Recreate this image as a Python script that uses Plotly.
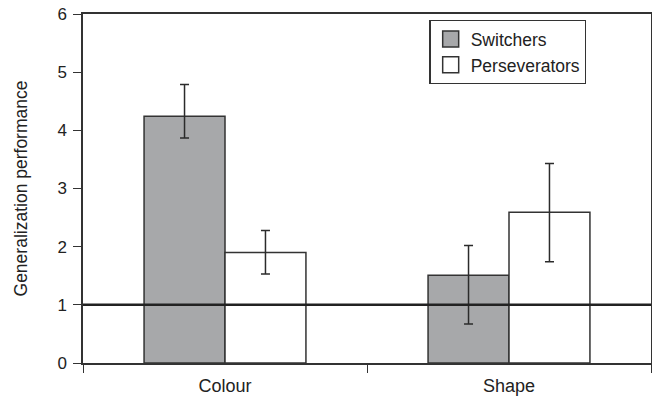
import plotly.graph_objects as go

categories = ["Colour", "Shape"]
switchers = [4.24, 1.51]
switchers_err_plus = [0.55, 0.51]
switchers_err_minus = [0.37, 0.84]
persev = [1.90, 2.59]
persev_err_plus = [0.38, 0.84]
persev_err_minus = [0.37, 0.85]
yticks = [0, 1, 2, 3, 4, 5, 6]
ref_line = 1

dark = "#2b2b2b"
edge = "#333333"
grey = "#a7a8aa"

fig = go.Figure()
fig.add_trace(go.Bar(
    x=categories, y=switchers, name="Switchers", showlegend=False,
    marker=dict(color=grey, line=dict(color=edge, width=1.5)),
    error_y=dict(type="data", symmetric=False, array=switchers_err_plus,
                 arrayminus=switchers_err_minus, color=dark, thickness=1.5, width=4.5),
))
fig.add_trace(go.Bar(
    x=categories, y=persev, name="Perseverators", showlegend=False,
    marker=dict(color="white", line=dict(color=edge, width=1.5)),
    error_y=dict(type="data", symmetric=False, array=persev_err_plus,
                 arrayminus=persev_err_minus, color=dark, thickness=1.5, width=4.5),
))
# legend entries with larger square swatches
for name, col in [("Switchers", grey), ("Perseverators", "white")]:
    fig.add_trace(go.Scatter(
        x=[None], y=[None], mode="markers", name=name,
        marker=dict(symbol="square", size=16, color=col, line=dict(color=edge, width=1.5)),
    ))

fig.add_shape(type="line", xref="paper", x0=0, x1=1, yref="y", y0=ref_line, y1=ref_line,
              line=dict(color="#222222", width=2.5), layer="above")

fig.update_layout(
    width=652, height=399,
    margin=dict(l=83, r=1, t=14, b=36, autoexpand=False),
    plot_bgcolor="white", paper_bgcolor="white",
    font=dict(family="Liberation Sans, Arial, sans-serif", color="#222222", size=17),
    barmode="group", bargap=0.43, bargroupgap=0,
    showlegend=True,
    legend=dict(x=0.61, y=0.983, xanchor="left", yanchor="top",
                bordercolor=edge, borderwidth=1.2, bgcolor="white",
                font=dict(size=17.5), itemsizing="trace"),
    xaxis=dict(range=[-0.5, 1.5], showline=True, linecolor=edge, linewidth=1.5,
               mirror=True, ticks="outside", tickson="boundaries", ticklen=8,
               tickcolor=edge, tickwidth=1.2, showgrid=False, automargin=False,
               tickfont=dict(size=18), ticklabelstandoff=6),
    yaxis=dict(range=[0, 6], tickvals=yticks, showline=True, linecolor=edge,
               linewidth=1.5, mirror=True, ticks="outside", ticklen=8,
               tickcolor=edge, tickwidth=1.2, showgrid=False, zeroline=False,
               automargin=False, tickfont=dict(size=17), ticklabelstandoff=3,
               ticklabeloverflow="allow",
               title=dict(text="Generalization performance", font=dict(size=17.5), standoff=25)),
)
fig.write_html("out.html", config={"displayModeBar": False},
               post_script="document.body.style.margin='0';document.body.style.padding='0';")
